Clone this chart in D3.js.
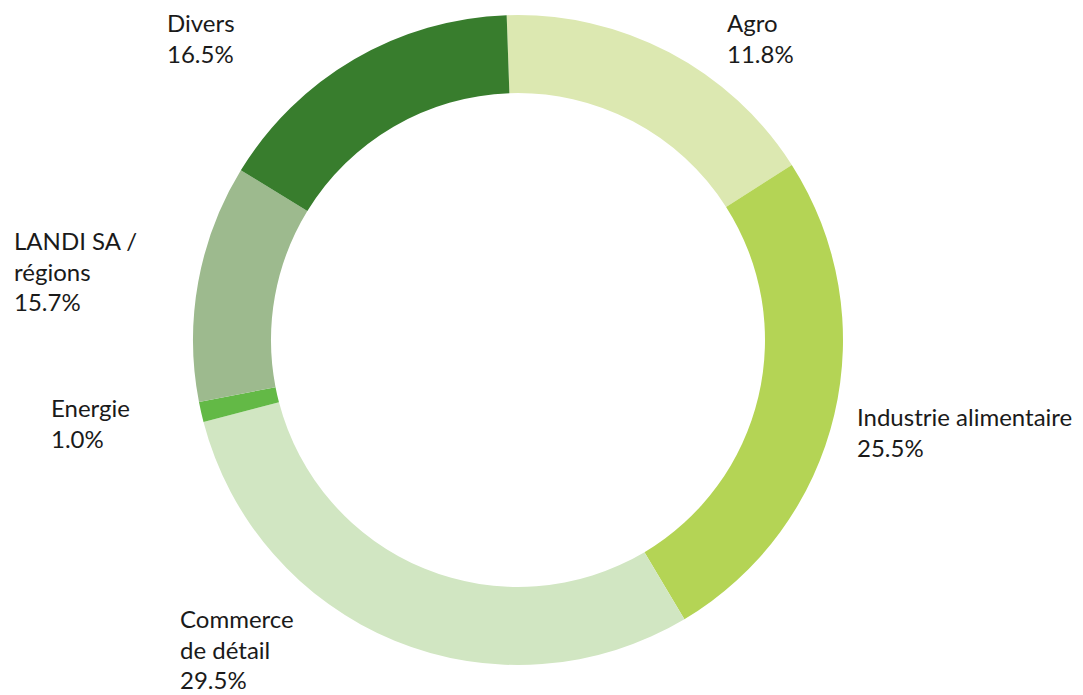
<!DOCTYPE html>
<html>
<head>
<meta charset="utf-8">
<script src="https://cdn.jsdelivr.net/npm/d3@7"></script>
<style>
  html, body { margin: 0; padding: 0; background: #ffffff; }
  svg { display: block; }
  text { font-family: "Lato", "Open Sans", sans-serif; fill: #1a1a1a; }
</style>
</head>
<body>
<svg id="chart" width="1083" height="695"></svg>
<script>
// ---- data ----
const categories = ["Agro", "Industrie alimentaire", "Commerce de détail", "Energie", "LANDI SA / régions", "Divers"];
// arc sizes as drawn in the picture (share of ring, %)
const values = [16.5, 25.5, 29.5, 1.0, 11.8, 15.7];
// percentages printed in the labels
const labelPercents = ["11.8%", "25.5%", "29.5%", "1.0%", "15.7%", "16.5%"];
// label lines for each category
const labelLines = [["Agro"], ["Industrie alimentaire"], ["Commerce", "de détail"], ["Energie"], ["LANDI SA /", "régions"], ["Divers"]];
const colors = ["#dce8b1", "#b4d455", "#d1e6c2", "#63b946", "#9dba8e", "#387d2d"];

// ---- layout ----
const width = 1083, height = 695;
const cx = 518, cy = 340, outerR = 325, innerR = 247;
const startAngle = -2 * Math.PI / 180;
const labelPos = [
  { x: 727, y: 32 },   // Agro
  { x: 857, y: 426 },  // Industrie
  { x: 180, y: 628 },  // Commerce
  { x: 51,  y: 417 },  // Energie
  { x: 14,  y: 250 },  // LANDI
  { x: 167, y: 32 }    // Divers
];
const lineH = 30.5;
const fontSize = 24;

const svg = d3.select("#chart");
const pie = d3.pie().sort(null).value(d => d)
  .startAngle(startAngle).endAngle(startAngle + 2 * Math.PI);
const arc = d3.arc().innerRadius(innerR).outerRadius(outerR);
const color = d3.scaleOrdinal().domain(categories).range(colors);

const g = svg.append("g").attr("transform", `translate(${cx},${cy})`);
g.selectAll("path")
  .data(pie(values))
  .join("path")
  .attr("d", arc)
  .attr("fill", (d, i) => color(categories[i]));

const labels = svg.append("g");
categories.forEach((c, i) => {
  const lines = labelLines[i].concat([labelPercents[i]]);
  const t = labels.append("text")
    .attr("x", labelPos[i].x)
    .attr("y", labelPos[i].y)
    .style("font-size", fontSize + "px");
  lines.forEach((ln, j) => {
    t.append("tspan")
      .attr("x", labelPos[i].x)
      .attr("y", labelPos[i].y + j * lineH)
      .text(ln);
  });
});
</script>
</body>
</html>
